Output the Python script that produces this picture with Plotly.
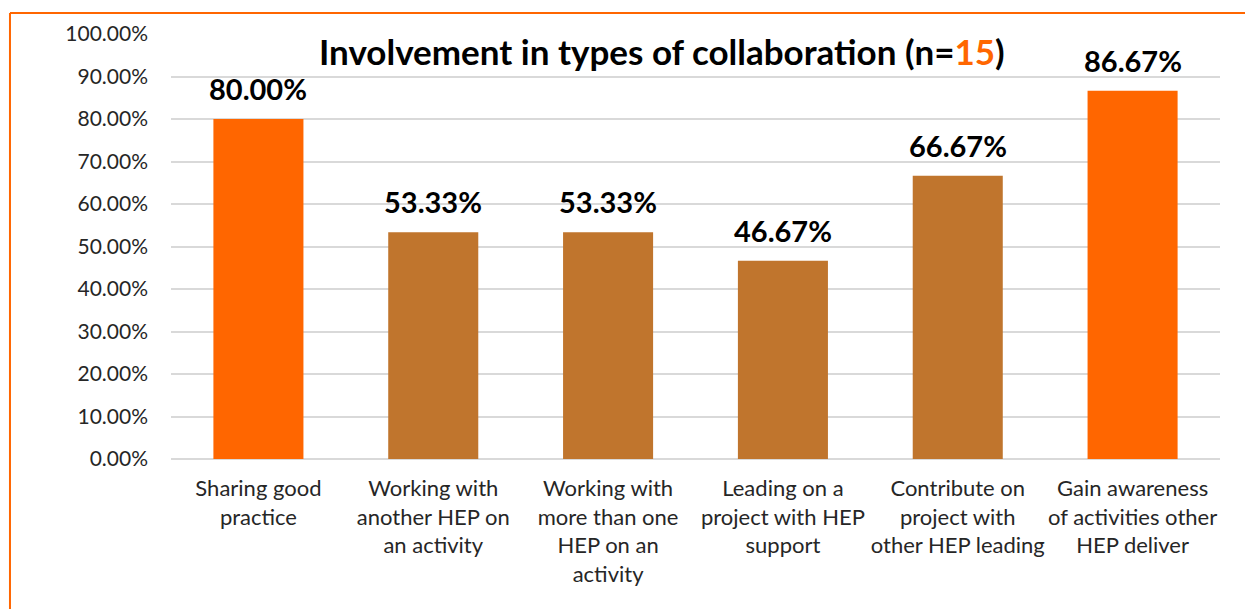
import plotly.graph_objects as go

# Collaboration types and share of respondents (n=15) involved in each
categories = [
    "Sharing good<br>practice",
    "Working with<br>another HEP on<br>an activity",
    "Working with<br>more than one<br>HEP on an<br>activity",
    "Leading on a<br>project with HEP<br>support",
    "Contribute on<br>project with<br>other HEP leading",
    "Gain awareness<br>of activities other<br>HEP deliver",
]
shares = [0.8000, 0.5333, 0.5333, 0.4667, 0.6667, 0.8667]
highlight = [True, False, False, False, False, True]
n_respondents = 15

ORANGE = "#FF6600"
BROWN = "#C0752D"
GRID = "#D9D9D9"
TEXT = "#262626"
FONT = "Lato, 'Open Sans', sans-serif"

bar_colors = [ORANGE if h else BROWN for h in highlight]

fig = go.Figure()
fig.add_trace(go.Bar(
    x=categories,
    y=shares,
    marker=dict(color=bar_colors, line=dict(width=0)),
    width=0.515,
    hoverinfo="skip",
))

# Value labels above each bar
for cat, val in zip(categories, shares):
    fig.add_annotation(
        x=cat, y=val, xref="x", yref="y",
        text=f"<b>{val * 100:.2f}%</b>",
        showarrow=False, yanchor="bottom", yshift=11,
        font=dict(family=FONT, size=29, color="#000000"),
    )

# Chart title in a white box over the gridlines
fig.add_annotation(
    x=0.4676, y=0.961, xref="paper", yref="paper",
    text=("<b>Involvement in types of collaboration (n="
          f"<span style='color:{ORANGE}'>{n_respondents}</span>)</b>"),
    showarrow=False, xanchor="center", yanchor="middle",
    bgcolor="white", borderpad=2,
    font=dict(family=FONT, size=35, color="#000000"),
)

# Orange frame along the left and top edges
fig.add_shape(type="line", xref="paper", yref="paper",
              x0=-0.1535, x1=-0.1535, y0=1.0494, y1=-0.4,
              line=dict(color=ORANGE, width=2))
fig.add_shape(type="line", xref="paper", yref="paper",
              x0=-0.1535, x1=1.05, y0=1.0494, y1=1.0494,
              line=dict(color=ORANGE, width=2))

fig.update_layout(
    width=1245, height=609,
    margin=dict(l=171, r=25, t=34, b=150),
    paper_bgcolor="white", plot_bgcolor="white",
    showlegend=False,
    font=dict(family=FONT, color=TEXT),
    bargap=0.485,
)
fig.update_xaxes(
    showgrid=False, showline=False, ticks="",
    tickfont=dict(family=FONT, size=22, color=TEXT),
    ticklabelstandoff=14,
)
fig.update_yaxes(
    range=[0, 1], dtick=0.1, tickformat=".2%",
    showgrid=True, gridcolor=GRID, gridwidth=2,
    zeroline=True, zerolinecolor=GRID, zerolinewidth=2,
    showline=False, ticks="",
    tickfont=dict(family=FONT, size=21, color=TEXT),
    ticklabelstandoff=22,
)

fig.write_html("out.html")
